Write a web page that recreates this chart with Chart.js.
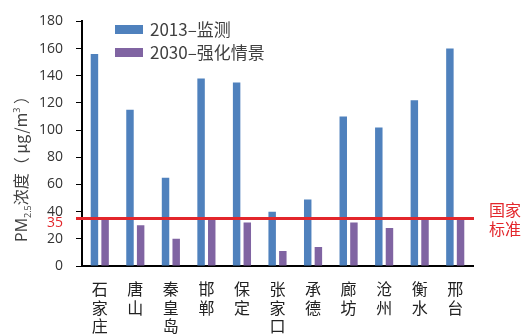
<!DOCTYPE html>
<html>
<head>
<meta charset="utf-8">
<script src="https://cdn.jsdelivr.net/npm/chart.js@4/dist/chart.umd.min.js"></script>
<style>
html,body{margin:0;padding:0;background:#fff;}
#wrap{width:530px;height:335px;}
</style>
</head>
<body>
<div id="wrap"><canvas id="c" width="530" height="335"></canvas></div>
<script>
const categories = ['石家庄','唐山','秦皇岛','邯郸','保定','张家口','承德','廊坊','沧州','衡水','邢台'];
const pm2013 = [156,115,65,138,135,40,49,110,102,122,160];
const pm2030 = [35,30,20,35,32,11,14,32,28,35,34];
const seriesNames = ['2013–监测','2030–强化情景'];
const seriesColors = ['#4f81bd','#8064a2'];
const standardValue = 35;
const standardLabel = ['国家','标准'];
const yMin = 0, yMax = 180, yStep = 20;

const FONT_NUM = "'Open Sans','Noto Sans CJK SC',sans-serif";
const FONT_CJK = "'Noto Sans CJK SC','Noto Sans',sans-serif";

const overlayPlugin = {
  id: 'overlay',
  afterDatasetsDraw(chart) {
    const ctx = chart.ctx;
    const y = chart.scales.y;
    const area = chart.chartArea;
    const py = y.getPixelForValue(standardValue);
    ctx.save();
    ctx.strokeStyle = '#e3262b';
    ctx.lineWidth = 3;
    ctx.beginPath();
    ctx.moveTo(area.left - 6, py);
    ctx.lineTo(area.right + 1, py);
    ctx.stroke();
    ctx.fillStyle = '#e3262b';
    ctx.font = '16px ' + FONT_CJK;
    ctx.textAlign = 'left';
    ctx.textBaseline = 'middle';
    standardLabel.forEach((t, i) => ctx.fillText(t, area.right + 16, py - 9 + i * 19));
    ctx.font = '14px ' + FONT_NUM;
    ctx.textAlign = 'right';
    ctx.fillText(String(standardValue), area.left - 19, py + 5);
    ctx.restore();
  },
  afterDraw(chart) {
    const ctx = chart.ctx;
    const area = chart.chartArea;
    ctx.save();
    seriesNames.forEach((name, i) => {
      const cy = 29.5 + i * 23;
      ctx.fillStyle = seriesColors[i];
      ctx.fillRect(115, cy - 4.5, 28, 9);
      ctx.fillStyle = '#404040';
      ctx.font = '17px ' + FONT_CJK;
      ctx.textAlign = 'left';
      ctx.textBaseline = 'middle';
      ctx.fillText(name, 150, cy);
    });
    const parts = [
      {t: 'PM', s: 16, dy: 0, f: FONT_NUM},
      {t: '2.5', s: 9, dy: 4, f: FONT_NUM},
      {t: '浓度（ μg/m', s: 16, dy: 0, f: FONT_CJK},
      {t: '3', s: 9, dy: -7, f: FONT_NUM},
      {t: ' ）', s: 16, dy: 0, f: FONT_CJK}
    ];
    let total = 0;
    parts.forEach(p => { ctx.font = p.s + 'px ' + p.f; p.w = ctx.measureText(p.t).width; total += p.w; });
    ctx.translate(22, 165);
    ctx.rotate(-Math.PI / 2);
    ctx.fillStyle = '#404040';
    ctx.textBaseline = 'alphabetic';
    ctx.textAlign = 'left';
    let x = -total / 2;
    parts.forEach(p => {
      ctx.font = p.s + 'px ' + p.f;
      ctx.fillText(p.t, x, 5 + p.dy);
      x += p.w;
    });
    ctx.restore();
  }
};

new Chart(document.getElementById('c'), {
  type: 'bar',
  data: {
    labels: categories.map(c => c.split('')),
    datasets: [
      {label: seriesNames[0], data: pm2013, backgroundColor: seriesColors[0], barPercentage: 0.7, categoryPercentage: 0.6},
      {label: seriesNames[1], data: pm2030, backgroundColor: seriesColors[1], barPercentage: 0.7, categoryPercentage: 0.6}
    ]
  },
  options: {
    responsive: false,
    animation: false,
    layout: {padding: {left: 0, right: 57, top: 21, bottom: 0}},
    plugins: {legend: {display: false}, tooltip: {enabled: false}},
    scales: {
      x: {
        grid: {display: false, drawOnChartArea: false, drawTicks: false},
        border: {display: true, color: '#000', width: 2},
        ticks: {
          autoSkip: false, maxRotation: 0, minRotation: 0, padding: 14,
          color: '#222', font: {family: FONT_CJK, size: 16, lineHeight: 1.15}
        },
        afterFit(s) { s.height = 69; }
      },
      y: {
        min: yMin, max: yMax,
        grid: {drawOnChartArea: false, drawTicks: true, tickLength: 6, color: '#000', lineWidth: 1},
        border: {display: true, color: '#000', width: 2},
        ticks: {stepSize: yStep, padding: 13, color: '#333', font: {family: FONT_NUM, size: 14}},
        afterFit(s) { s.width = 82; }
      }
    }
  },
  plugins: [overlayPlugin]
});
</script>
</body>
</html>
